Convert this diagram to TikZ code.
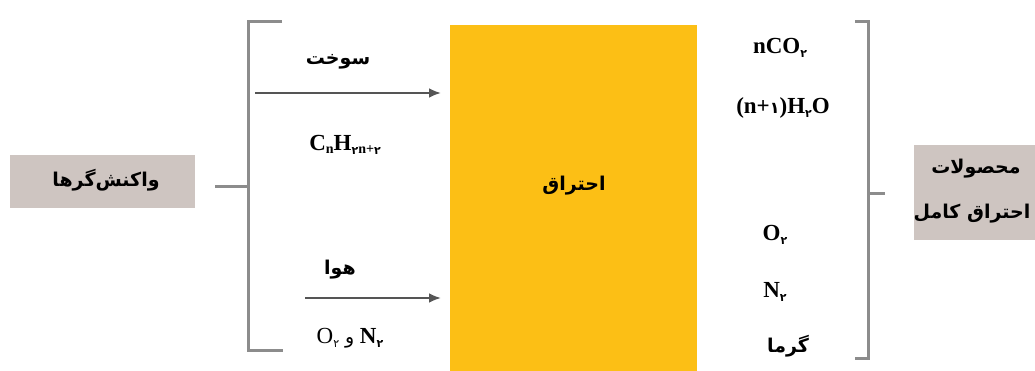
\documentclass[tikz,border=0pt]{standalone}
\usepackage{fontspec}
\setmainfont{Liberation Serif}
\newfontfamily\arabicfont[Script=Arabic]{DejaVu Sans}
\TeXXeTstate=1
\usetikzlibrary{arrows.meta}
\definecolor{boxgrey}{HTML}{CEC5C1}
\definecolor{fireyellow}{HTML}{FCBF15}
\definecolor{bracegrey}{HTML}{8C8C8C}
\definecolor{arrowgrey}{HTML}{555555}
\newcommand{\ssub}[1]{\raisebox{-0.3ex}{\fontsize{14}{16}\selectfont #1}}
\newcommand{\fsub}[1]{\raisebox{-0.4ex}{\fontsize{11}{13}\selectfont\arabicfont #1}}
\begin{document}
\begin{tikzpicture}[x=1pt,y=-1pt,
  fa/.style={font=\fontsize{19}{23}\selectfont\bfseries\arabicfont, text=black, inner sep=0pt},
  la/.style={font=\fontsize{23}{27}\selectfont\bfseries, text=black, inner sep=0pt},
  lbox/.style={fill=boxgrey, draw=none, inner sep=0pt},
  bracket/.style={draw=bracegrey, line width=3pt},
  inarrow/.style={draw=arrowgrey, line width=2.4pt, -{Latex[length=12pt,width=10pt]}}]
\useasboundingbox (0,0) rectangle (1035,371);
% left box
\node[lbox, minimum width=185pt, minimum height=53pt] (lb) at (102.5,181.5) {};
\node[fa] (lbt) at (106,180) {\beginR واکنش‌گرها\endR};
% left bracket
\coordinate (lt1) at (282,22);
\coordinate (lt2) at (248,22);
\coordinate (lb2) at (248,350);
\coordinate (lb1) at (283,350);
\coordinate (lm1) at (248,187);
\coordinate (lm2) at (215,187);
\draw[bracket] (lt1) -- (lt2) -- (lb2) -- (lb1);
\draw[bracket] (lm1) -- (lm2);
% yellow block
\node[fill=fireyellow, draw=none, minimum width=247pt, minimum height=346pt, inner sep=0pt] (fire) at (573.5,198) {};
\node[fa] (firet) at (574,186) {\beginR احتراق\endR};
% arrows
\coordinate (a1s) at (255,93);
\coordinate (a1e) at (441,93);
\coordinate (a2s) at (305,298);
\coordinate (a2e) at (441,298);
\draw[inarrow] (a1s) -- (a1e);
\draw[inarrow] (a2s) -- (a2e);
% left texts
\node[fa] (fuel) at (338,62) {\beginR سوخت\endR};
\node[la] (fuelf) at (345,145) {C\ssub{n}H\fsub{۲}\ssub{n+}\fsub{۲}};
\node[fa] (air) at (340,270) {\beginR هوا\endR};
\node[la] (airf) at (350,338) {\mdseries O\fsub{۲} {\arabicfont\fontsize{19}{23}\selectfont و} \bfseries N\fsub{۲}};
% right texts
\node[la] (p1) at (780,48) {nCO\fsub{۲}};
\node[la] (p2) at (783,108) {(n+{\arabicfont\fontsize{16}{18}\selectfont ۱})H\fsub{۲}O};
\node[la] (p3) at (775,235) {O\fsub{۲}};
\node[la] (p4) at (775,292) {N\fsub{۲}};
\node[fa] (p5) at (788,346) {\beginR گرما\endR};
% right bracket
\coordinate (rt1) at (855,22);
\coordinate (rt2) at (868,22);
\coordinate (rb2) at (868,358);
\coordinate (rb1) at (855,358);
\coordinate (rm1) at (868,194);
\coordinate (rm2) at (885,194);
\draw[bracket] (rt1) -- (rt2) -- (rb2) -- (rb1);
\draw[bracket] (rm1) -- (rm2);
% right box
\node[lbox, minimum width=125pt, minimum height=95pt] (rb) at (976.5,192.5) {};
\node[fa] (rbt1) at (976,169) {\beginR محصولات\endR};
\node[fa] (rbt2) at (972,214) {\beginR احتراق کامل\endR};
\end{tikzpicture}
\end{document}
